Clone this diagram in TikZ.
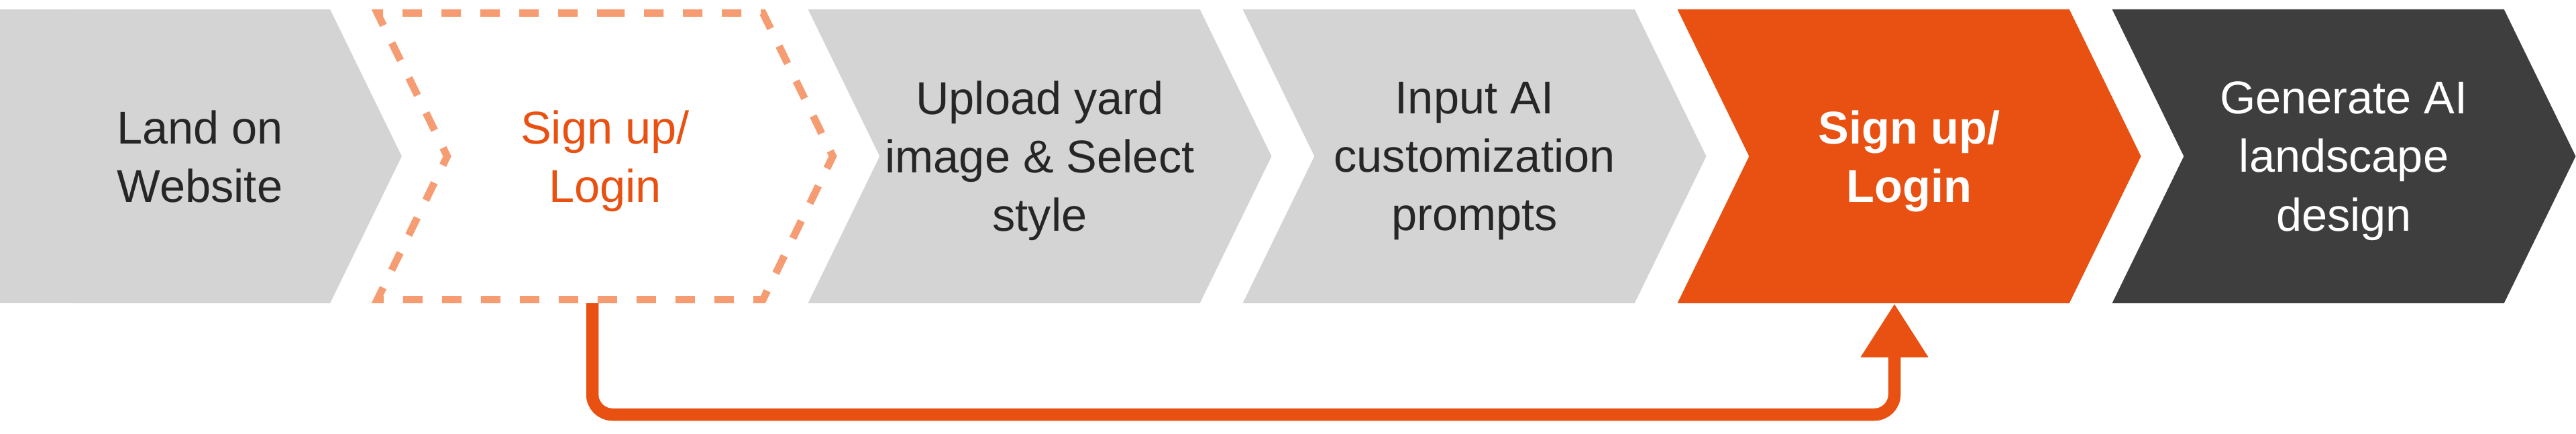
\documentclass[tikz,border=0pt]{standalone}
\usepackage{fontspec}
\setmainfont{Liberation Sans}
\usepackage{xcolor}
\usetikzlibrary{arrows.meta,positioning,shapes.symbols}

\definecolor{stepgrey}{HTML}{D4D4D4}
\definecolor{steporange}{HTML}{E95112}
\definecolor{steplight}{HTML}{F69C72}
\definecolor{stepdark}{HTML}{3E3E3E}

\begin{document}
\begin{tikzpicture}[
  font=\fontsize{19.5}{24.8}\selectfont,
  chevron/.style={signal, signal to=east, signal from=west, signal pointer angle=128,
    minimum height=4.38cm, minimum width=6.91cm, align=center, inner sep=0pt, text depth=0pt},
  greystep/.style={chevron, fill=stepgrey, text=black!85},
  firststep/.style={greystep, signal from=nowhere, minimum width=4.95cm},
  optstep/.style={chevron, minimum height=4.27cm, minimum width=6.79cm, fill=white,
    draw=steplight, line width=0.11cm, dash pattern=on 0.29cm off 0.29cm, text=steporange},
  keystep/.style={chevron, fill=steporange, text=white, font=\fontsize{19.5}{24.8}\selectfont\bfseries},
  laststep/.style={chevron, fill=stepdark, text=white},
  backline/.style={draw=steporange, line width=0.185cm, rounded corners=0.3cm,
    -{Triangle[length=0.8cm, width=0.96cm]}},
  node distance=6.48cm, on grid
]
\useasboundingbox (0,0) rectangle (38.4,6.46);

\node[firststep] (land) at (2.98,4.13) {Land on\\Website};
% first step runs off the left edge
\fill[stepgrey] (-0.1,1.94) rectangle (1.2,6.32);
\node[optstep, right=6.04cm of land] (signup) {Sign up/\\Login};
\node[greystep, right=of signup] (upload) {Upload yard\\image \& Select\\style};
\node[greystep, right=of upload] (prompts) {Input AI\\customization\\prompts};
\node[keystep, right=of prompts] (signupb) {Sign up/\\Login};
\node[laststep, right=of signupb] (generate) {Generate AI\\landscape\\design};

% skip path back to the required login
\draw[backline] ([xshift=-0.19cm]signup.south) -- ++(0,-1.66) -| ([xshift=-0.22cm]signupb.south);
\end{tikzpicture}
\end{document}
